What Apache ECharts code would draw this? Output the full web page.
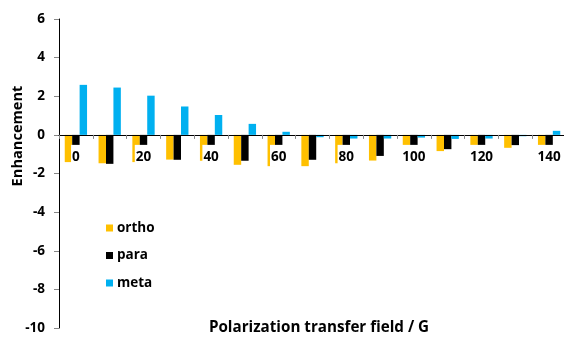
<!DOCTYPE html>
<html>
<head>
<meta charset="utf-8">
<script src="https://cdn.jsdelivr.net/npm/echarts@6/dist/echarts.min.js"></script>
<style>
  html, body { margin: 0; padding: 0; background: #fff; }
  #chart { width: 564px; height: 337px; }
</style>
</head>
<body>
<div id="chart"></div>
<script>
// Polarization transfer field (G)
const fields = ['0', '10', '20', '30', '40', '50', '60', '70', '80', '90', '100', '110', '120', '130', '140'];
// Signal enhancement per isomer
const ortho = [-1.41, -1.47, -1.41, -1.28, -1.34, -1.55, -1.62, -1.62, -1.47, -1.33, -1.0, -0.84, -0.8, -0.67, -0.6];
const para  = [-1.2, -1.50, -1.3, -1.29, -1.2, -1.34, -1.3, -1.29, -1.2, -1.09, -0.9, -0.74, -0.6, -0.53, -0.6];
const meta  = [2.59, 2.45, 2.03, 1.47, 1.03, 0.57, 0.16, -0.12, -0.19, -0.19, -0.14, -0.21, -0.19, -0.07, 0.21];
const yTicks = { min: -10, max: 6, step: 2 };

const FONT = '"Open Sans"';
const FS = 13.5;
const chart = echarts.init(document.getElementById('chart'), null, { renderer: 'canvas' });

function barSeries(name, data, color) {
  return {
    name: name,
    type: 'bar',
    data: data,
    itemStyle: { color: color },
    barGap: '0%',
    barCategoryGap: '34%',
    z: 2
  };
}

chart.setOption({
  animation: false,
  backgroundColor: '#fff',
  grid: { left: 59, right: -2, top: 19, bottom: 9, containLabel: false, outerBoundsMode: 'none' },
  legend: {
    orient: 'vertical',
    left: 101,
    top: 216,
    itemWidth: 7,
    itemHeight: 7,
    itemGap: 13.5,
    icon: 'rect',
    textStyle: { fontFamily: FONT, fontWeight: 'bold', fontSize: FS, color: '#000', padding: [0, 0, 0, -1] },
    data: ['ortho', 'para', 'meta']
  },
  xAxis: {
    type: 'category',
    data: fields,
    z: 5,
    axisLine: { onZero: false, lineStyle: { color: '#000', width: 1 } },
    axisTick: { show: true, interval: 0, length: 4, lineStyle: { color: '#868686' } },
    axisLabel: {
      interval: 1,
      margin: 10,
      fontFamily: FONT,
      fontWeight: 'bold',
      fontSize: FS,
      color: '#000',
      backgroundColor: '#fff',
      padding: [5, 1, 3, 1]
    },
    splitLine: { show: false }
  },
  yAxis: {
    type: 'value',
    min: yTicks.min,
    max: yTicks.max,
    interval: yTicks.step,
    axisLine: { show: true, lineStyle: { color: '#000', width: 1 } },
    axisTick: { show: true, length: 5, lineStyle: { color: '#868686' } },
    axisLabel: { margin: 14, fontFamily: FONT, fontWeight: 'bold', fontSize: FS, color: '#000' },
    splitLine: { show: false }
  },
  graphic: [
    {
      type: 'text',
      x: 18, y: 136,
      rotation: Math.PI / 2,
      style: {
        text: 'Enhancement',
        fontFamily: FONT, fontWeight: 'bold', fontSize: 14.6, fill: '#000',
        align: 'center', verticalAlign: 'middle'
      }
    },
    {
      type: 'text',
      x: 319, y: 328,
      style: {
        text: 'Polarization transfer field / G',
        fontFamily: FONT, fontWeight: 'bold', fontSize: 15.2, fill: '#000',
        align: 'center', verticalAlign: 'middle'
      }
    }
  ],
  series: [
    barSeries('ortho', ortho, '#FFC000'),
    barSeries('para', para, '#000000'),
    barSeries('meta', meta, '#00B0F0')
  ]
});

// Lift the category axis (line, ticks and labels) up to the zero line of the value axis
const yZero = chart.convertToPixel({ yAxisIndex: 0 }, 0);
const yBottom = chart.convertToPixel({ yAxisIndex: 0 }, yTicks.min);
chart.setOption({ xAxis: { offset: yZero - yBottom } });
</script>
</body>
</html>
